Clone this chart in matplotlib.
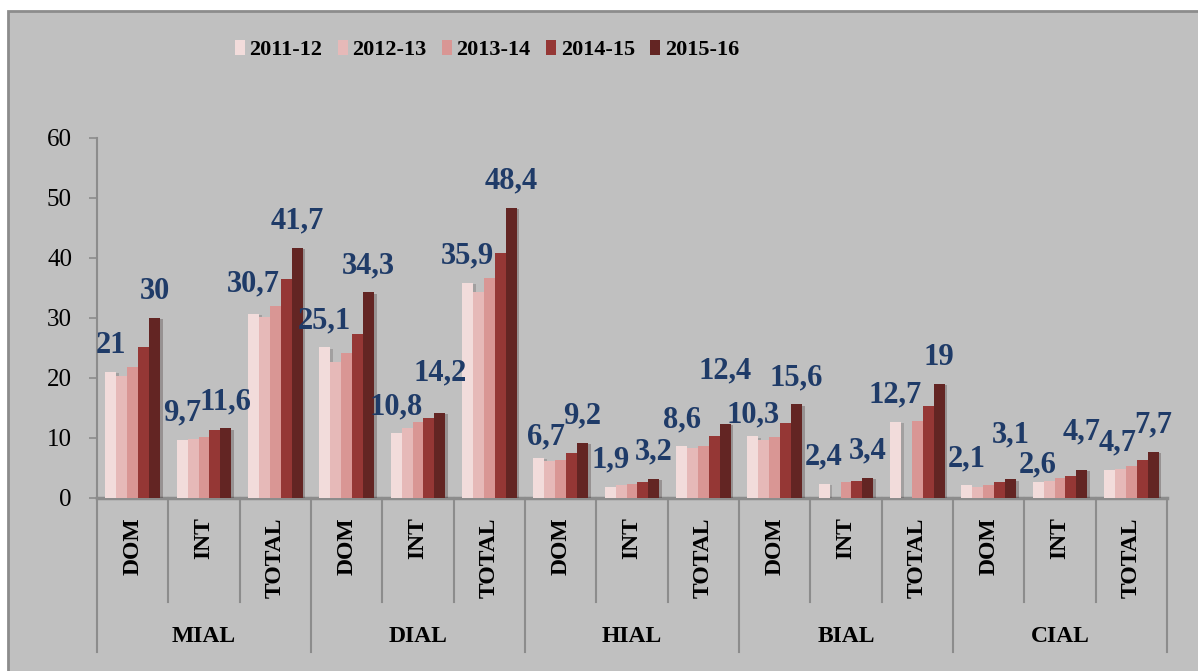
import matplotlib.pyplot as plt
import matplotlib.patheffects as pe
from matplotlib.patches import Rectangle
import numpy as np

airports = ["MIAL", "DIAL", "HIAL", "BIAL", "CIAL"]
subcats = ["DOM", "INT", "TOTAL"]
years = ["2011-12", "2012-13", "2013-14", "2014-15", "2015-16"]

s2011 = [21, 9.7, 30.7, 25.1, 10.8, 35.9, 6.7, 1.9, 8.6, 10.3, 2.4, 12.7, 2.1, 2.6, 4.7]
s2012 = [20.3, 9.8, 30.1, 22.7, 11.6, 34.3, 6.2, 2.2, 8.4, 9.6, np.nan, np.nan, 1.9, 2.9, 4.8]
s2013 = [21.8, 10.2, 32.0, 24.1, 12.6, 36.7, 6.3, 2.4, 8.7, 10.2, 2.6, 12.8, 2.1, 3.3, 5.4]
s2014 = [25.1, 11.3, 36.5, 27.4, 13.4, 40.9, 7.5, 2.7, 10.3, 12.5, 2.9, 15.4, 2.7, 3.7, 6.4]
s2015 = [30, 11.6, 41.7, 34.3, 14.2, 48.4, 9.2, 3.2, 12.4, 15.6, 3.4, 19, 3.1, 4.7, 7.7]
series = [s2011, s2012, s2013, s2014, s2015]
labelled = [0, 4]  # only first and last year carry data labels

# label nudges (pixels) where the original chart moved labels apart
nudge = {(4, 8): (0, 26), (4, 4): (0, 13), (4, 12): (0, 18), (4, 13): (0, 11),
         (0, 13): (0, -9), (0, 9): (0, -5), (0, 6): (7, -6), (0, 14): (8, 0),
         (0, 2): (0, 3)}

colors = ["#F2DCDB", "#E6B9B8", "#D99694", "#953735", "#632523"]
bg = "#C0C0C0"
line_c = "#8C8C8C"
lab_c = "#1F3B68"
serif = "Liberation Serif"

fig = plt.figure(figsize=(11.98, 6.71), dpi=100)
fig.patch.set_facecolor("white")
fig.patches.append(Rectangle((8 / 1198, -0.02), 1.02, 1 - 11 / 671 + 0.02,
                             transform=fig.transFigure, facecolor=bg,
                             edgecolor=line_c, linewidth=2, zorder=-5))

ax = fig.add_axes([97 / 1198, 1 - 498 / 671, 1070 / 1198, 360 / 671])
ax.set_facecolor("none")

n = len(s2011)
x = np.arange(n)
w = 0.153
shadow = [pe.SimplePatchShadow(offset=(2, -1), alpha=0.25), pe.Normal()]
for i, (vals, c, yr) in enumerate(zip(series, colors, years)):
    pos = x + (i - 2) * w
    bars = ax.bar(pos, vals, width=w, color=c, label=yr, zorder=3)
    for b in bars:
        b.set_path_effects(shadow)
    if i in labelled:
        for k, (p, v) in enumerate(zip(pos, vals)):
            dx, dy = nudge.get((i, k), (0, 0))
            txt = f"{v:g}".replace(".", ",")
            ax.annotate(txt, (p, v), xytext=(dx, 19 + dy), textcoords="offset pixels",
                        ha="center", va="baseline", fontsize=22, fontweight="bold",
                        color=lab_c, family=serif, zorder=5)

ax.set_xlim(-0.5, n - 0.5)
ax.set_ylim(0, 60)
ax.set_yticks(range(0, 61, 10))
ax.tick_params(axis="y", length=6, width=1.2, color=line_c, pad=12,
               labelsize=18, labelcolor="black")
for t in ax.get_yticklabels():
    t.set_family(serif)
ax.set_xticks([])
for s in ["top", "right"]:
    ax.spines[s].set_visible(False)
ax.spines["left"].set_color(line_c)
ax.spines["left"].set_linewidth(1.5)
ax.spines["bottom"].set_color(line_c)
ax.spines["bottom"].set_linewidth(2.5)

# multi-level category axis
tr = ax.get_xaxis_transform()
for k in range(n + 1):
    xb = k - 0.5
    ybot = -0.428 if k % 3 == 0 else -0.289
    ax.plot([xb, xb], [0, ybot], color=line_c, lw=1.5, transform=tr, clip_on=False)
for k in range(n):
    ax.text(k, -0.053, subcats[k % 3], transform=tr, rotation=90, ha="center",
            va="top", fontsize=17, fontweight="bold", family=serif)
for j, a in enumerate(airports):
    ax.text(3 * j + 1, -0.386, a, transform=tr, ha="center", va="center",
            fontsize=17, fontweight="bold", family=serif)

leg = fig.legend(loc="center", bbox_to_anchor=(487 / 1198, 1 - 50 / 671), ncol=5,
                 frameon=False, prop={"family": serif, "weight": "bold", "size": 16},
                 handlelength=0.45, handleheight=0.68, handletextpad=0.2,
                 columnspacing=0.7)
for h in leg.legend_handles:
    h.set_path_effects([])

fig.savefig("out.png", dpi=100, facecolor="white")
